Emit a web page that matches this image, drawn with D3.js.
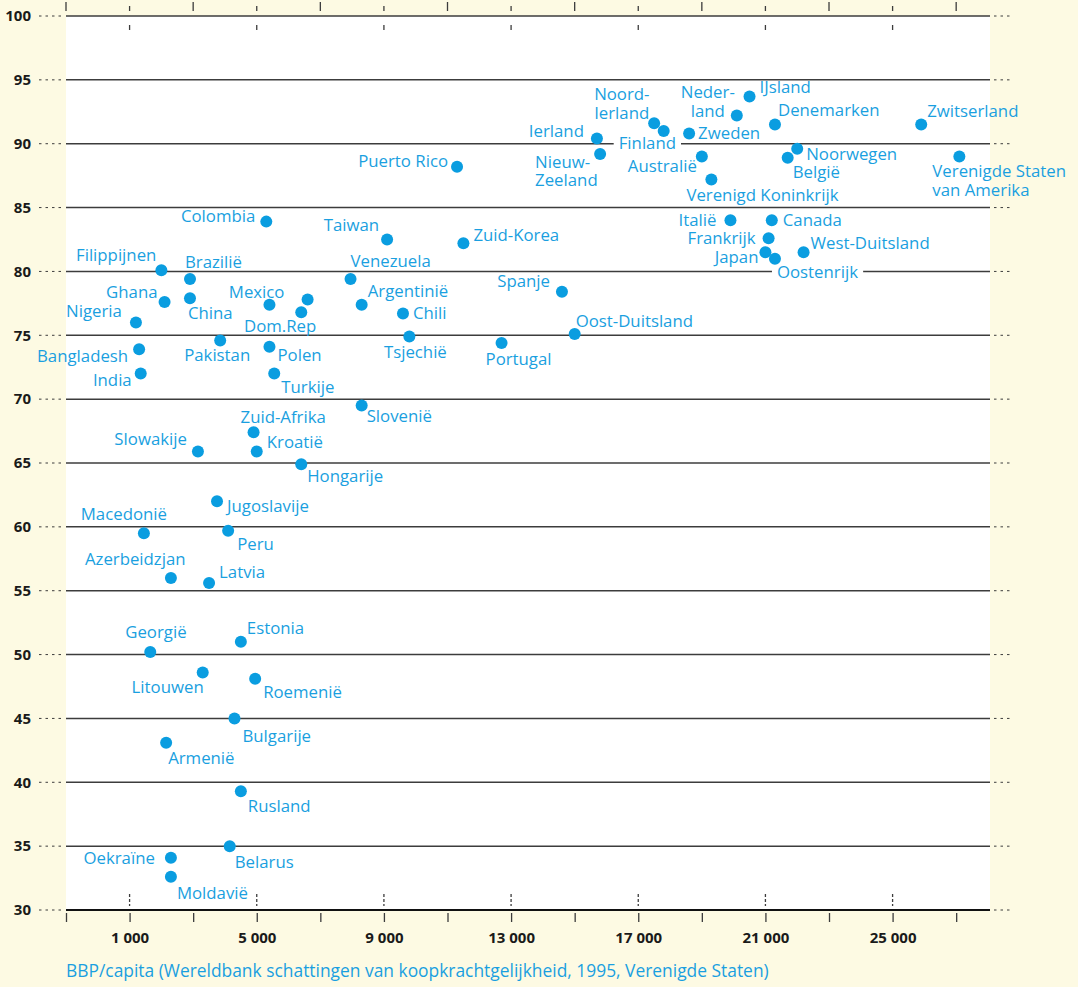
<!DOCTYPE html>
<html>
<head>
<meta charset="utf-8">
<script src="https://cdn.jsdelivr.net/npm/d3@7"></script>
<style>
  body { margin: 0; background: #fdfae3; }
  svg { display: block; }
  .lbl { font-family: 'Open Sans', sans-serif; font-size: 16.8px; fill: #1a9fe0; }
  .ax text { font-family: 'Open Sans', sans-serif; font-weight: bold; font-size: 15px; fill: #1a1a1a; }
</style>
</head>
<body>
<script>
// Data
var countries = ['Zwitserland', 'Verenigde Staten van Amerika', 'IJsland', 'Nederland', 'Denemarken',
  'Noord-Ierland', 'Finland', 'Zweden', 'Ierland', 'Nieuw-Zeeland', 'Australië', 'Noorwegen', 'België',
  'Verenigd Koninkrijk', 'Puerto Rico', 'Colombia', 'Taiwan', 'Zuid-Korea', 'Italië', 'Canada',
  'Frankrijk', 'Japan', 'Oostenrijk', 'West-Duitsland', 'Filippijnen', 'Brazilië', 'Ghana', 'China',
  'Nigeria', 'Mexico', '', 'Dom.Rep', 'Venezuela', 'Argentinië', 'Chili', 'Spanje', 'Oost-Duitsland',
  'Tsjechië', 'Portugal', 'Bangladesh', 'India', 'Pakistan', 'Polen', 'Turkije', 'Slovenië',
  'Zuid-Afrika', 'Kroatië', 'Slowakije', 'Hongarije', 'Jugoslavije', 'Macedonië', 'Peru',
  'Azerbeidzjan', 'Latvia', 'Georgië', 'Estonia', 'Litouwen', 'Roemenië', 'Bulgarije', 'Armenië',
  'Rusland', 'Belarus', 'Oekraïne', 'Moldavië']
var gdp = [25900, 27100, 20500, 20100, 21300,
  17500, 17800, 18600, 15700, 15800, 19000, 22000, 21700,
  19300, 11300, 5300, 9100, 11500, 19900, 21200,
  21100, 21000, 21300, 22200, 2000, 2900, 2100, 2900,
  1200, 5400, 6600, 6400, 7950, 8300, 9600, 14600, 15000,
  9800, 12700, 1300, 1350, 3850, 5400, 5550, 8300,
  4900, 5000, 3150, 6400, 3750, 1450, 4100,
  2300, 3500, 1650, 4500, 3300, 4950, 4300, 2150,
  4500, 4150, 2300, 2300]
var score = [91.5, 89.0, 93.7, 92.2, 91.5,
  91.6, 91.0, 90.8, 90.4, 89.2, 89.0, 89.6, 88.9,
  87.2, 88.2, 83.9, 82.5, 82.2, 84.0, 84.0,
  82.6, 81.5, 81.0, 81.5, 80.1, 79.4, 77.6, 77.9,
  76.0, 77.4, 77.8, 76.8, 79.4, 77.4, 76.7, 78.4, 75.1,
  74.9, 74.4, 73.9, 72.0, 74.6, 74.1, 72.0, 69.5,
  67.4, 65.9, 65.9, 64.9, 62.0, 59.5, 59.7,
  56.0, 55.6, 50.2, 51.0, 48.6, 48.1, 45.0, 43.1,
  39.3, 35.0, 34.1, 32.6]
var yTicks = [30, 35, 40, 45, 50, 55, 60, 65, 70, 75, 80, 85, 90, 95, 100]
var xMajor = [1000, 5000, 9000, 13000, 17000, 21000, 25000]
var xMinor = [-1000, 3000, 7000, 11000, 15000, 19000, 23000, 27000]
var xTitle = 'BBP/capita (Wereldbank schattingen van koopkrachtgelijkheid, 1995, Verenigde Staten)'

// label placement: dx, dy (centre of first line), anchor, white box
var labelPos = {
  'Zwitserland': [6, -13, 'start'], 'Verenigde Staten van Amerika': [-27, 15, 'start'],
  'IJsland': [10, -9, 'start'], 'Nederland': [-29, -23, 'middle'], 'Denemarken': [3, -14, 'start'],
  'Noord-Ierland': [-60, -29, 'start'], 'Finland': [-45, 12, 'start', true], 'Zweden': [9, 0, 'start'],
  'Ierland': [-13, -7, 'end'], 'Nieuw-Zeeland': [-65, 8, 'start'], 'Australië': [-5, 10, 'end'],
  'Noorwegen': [9, 5, 'start'], 'België': [5, 14, 'start'], 'Verenigd Koninkrijk': [-25, 16, 'start'],
  'Puerto Rico': [-9, -6, 'end'], 'Colombia': [-11, -6, 'end'], 'Taiwan': [-8, -14, 'end'],
  'Zuid-Korea': [10, -8, 'start'], 'Italië': [-14, 0, 'end'], 'Canada': [11, 0, 'start'],
  'Frankrijk': [-13, 0, 'end'], 'Japan': [-7, 5, 'end'], 'Oostenrijk': [2, 13, 'start', true],
  'West-Duitsland': [7, -9, 'start'], 'Filippijnen': [-5, -15, 'end'], 'Brazilië': [-5, -17, 'start'],
  'Ghana': [-7, -10, 'end'], 'China': [-2, 15, 'start'], 'Nigeria': [-14, -11, 'end'],
  'Mexico': [15, -13, 'end'], 'Dom.Rep': [15, 14, 'end'], 'Venezuela': [0, -18, 'start'],
  'Argentinië': [6, -14, 'start'], 'Chili': [10, 0, 'start'], 'Spanje': [-12, -11, 'end'],
  'Oost-Duitsland': [1, -13, 'start'], 'Tsjechië': [6, 16, 'middle'], 'Portugal': [17, 16, 'middle'],
  'Bangladesh': [-11, 7, 'end'], 'India': [-9, 7, 'end'], 'Pakistan': [-3, 15, 'middle'],
  'Polen': [8, 8, 'start'], 'Turkije': [7, 14, 'start'], 'Slovenië': [5, 11, 'start'],
  'Zuid-Afrika': [-13, -15, 'start'], 'Kroatië': [10, -9, 'start'], 'Slowakije': [-11, -12, 'end'],
  'Hongarije': [6, 12, 'start'], 'Jugoslavije': [10, 5, 'start'], 'Macedonië': [-20, -19, 'middle'],
  'Peru': [9, 13, 'start'], 'Azerbeidzjan': [-86, -19, 'start'], 'Latvia': [10, -11, 'start'],
  'Georgië': [-25, -20, 'start'], 'Estonia': [6, -14, 'start'], 'Litouwen': [1, 15, 'end'],
  'Roemenië': [8, 13, 'start'], 'Bulgarije': [8, 18, 'start'], 'Armenië': [2, 15, 'start'],
  'Rusland': [7, 15, 'start'], 'Belarus': [5, 16, 'start'], 'Oekraïne': [-16, 0, 'end'],
  'Moldavië': [6, 16, 'start']
}
var lineBreaks = {
  'Nederland': ['Neder-', 'land'],
  'Noord-Ierland': ['Noord-', 'Ierland'],
  'Nieuw-Zeeland': ['Nieuw-', 'Zeeland'],
  'Verenigde Staten van Amerika': ['Verenigde Staten', 'van Amerika']
}

var data = countries.map(function (c, i) { return { name: c, gdp: gdp[i], score: score[i] } })

var W = 1078, H = 987
var pLeft = 66, pRight = 990, pTop = 16, pBottom = 910
var blue = '#0a9de0', grid = '#3c3c3c'

var xScale = d3.scaleLinear().domain([-1000, 27000]).range([pLeft, pLeft + 28000 * 0.031792])
var yScale = d3.scaleLinear().domain([30, 100]).range([pBottom, pTop])
var fmt = d3.formatLocale({ decimal: ',', thousands: ' ', grouping: [3], currency: ['', ''] }).format(',')

var svg = d3.select('body').append('svg')
    .attr('width', W)
    .attr('height', H)

svg.append('rect')
    .attr('width', W).attr('height', H)
    .attr('fill', '#fdfae3')
svg.append('rect')
    .attr('x', pLeft).attr('y', pTop)
    .attr('width', pRight - pLeft).attr('height', pBottom - pTop)
    .attr('fill', '#fff')

// Horizontal grid lines + dotted leaders
svg.append('g').selectAll('line')
    .data(yTicks.slice(1))
    .enter()
  .append('line')
    .attr('x1', pLeft).attr('x2', pRight)
    .attr('y1', function (d) { return yScale(d) })
    .attr('y2', function (d) { return yScale(d) })
    .attr('stroke', grid)
    .attr('stroke-width', 1.5)
svg.append('g').selectAll('line')
    .data(yTicks)
    .enter()
  .append('line')
    .attr('x1', 39).attr('x2', 63)
    .attr('y1', function (d) { return yScale(d) })
    .attr('y2', function (d) { return yScale(d) })
    .attr('stroke', grid)
    .attr('stroke-dasharray', '2.5,4')
svg.append('g').selectAll('line')
    .data(yTicks)
    .enter()
  .append('line')
    .attr('x1', 994).attr('x2', 1013)
    .attr('y1', function (d) { return yScale(d) })
    .attr('y2', function (d) { return yScale(d) })
    .attr('stroke', grid)
    .attr('stroke-dasharray', '2.5,4')

// Y-axis labels
svg.append('g')
    .attr('class', 'ax')
  .selectAll('text')
    .data(yTicks)
    .enter()
  .append('text')
    .attr('x', 31)
    .attr('y', function (d) { return yScale(d) })
    .attr('dy', '0.35em')
    .style('text-anchor', 'end')
    .text(function (d) { return d })

// Top ticks
var topG = svg.append('g')
topG.selectAll('.mn')
    .data(xMinor)
    .enter()
  .append('line')
    .attr('x1', function (d) { return xScale(d) }).attr('x2', function (d) { return xScale(d) })
    .attr('y1', 2).attr('y2', 11)
    .attr('stroke', grid).attr('stroke-width', 1.3)
topG.selectAll('.mj')
    .data(xMajor)
    .enter()
  .append('line')
    .attr('x1', function (d) { return xScale(d) }).attr('x2', function (d) { return xScale(d) })
    .attr('y1', 6).attr('y2', 11)
    .attr('stroke', grid).attr('stroke-width', 1.3)
topG.selectAll('.mi')
    .data(xMajor)
    .enter()
  .append('line')
    .attr('x1', function (d) { return xScale(d) }).attr('x2', function (d) { return xScale(d) })
    .attr('y1', 25).attr('y2', 30)
    .attr('stroke', grid).attr('stroke-width', 1.3)

// Dashed marks above x-axis
svg.append('g').selectAll('line')
    .data(xMajor)
    .enter()
  .append('line')
    .attr('x1', function (d) { return xScale(d) }).attr('x2', function (d) { return xScale(d) })
    .attr('y1', 894).attr('y2', 906)
    .attr('stroke', grid).attr('stroke-width', 1.3)
    .attr('stroke-dasharray', '3,2')

// X-axis
var xAxis = d3.axisBottom(xScale)
    .tickValues(xMinor.concat(xMajor))
    .tickSize(10)
    .tickFormat('')
var xg = svg.append('g')
    .attr('transform', 'translate(0,' + pBottom + ')')
    .call(xAxis)
xg.select('.domain').remove()
xg.selectAll('.tick line').attr('stroke', grid).attr('stroke-width', 1.3).attr('y1', 3).attr('y2', 12)

var xLab = d3.axisBottom(xScale)
    .tickValues(xMajor)
    .tickSize(0)
    .tickPadding(22)
    .tickFormat(function (d) { return fmt(d) })
var xl = svg.append('g')
    .attr('class', 'ax')
    .attr('transform', 'translate(0,' + pBottom + ')')
    .call(xLab)
xl.select('.domain').remove()

svg.append('line')
    .attr('x1', pLeft).attr('x2', pRight)
    .attr('y1', pBottom).attr('y2', pBottom)
    .attr('stroke', '#111').attr('stroke-width', 2)

svg.append('text')
    .attr('class', 'lbl')
    .attr('x', pLeft)
    .attr('y', 971)
    .attr('dy', '0.35em')
    .style('font-size', '17.4px')
    .text(xTitle)

// Labels with a white box behind them
var boxG = svg.append('g')

// Dots
svg.append('g').selectAll('circle')
    .data(data)
    .enter()
  .append('circle')
    .attr('cx', function (d) { return xScale(d.gdp) })
    .attr('cy', function (d) { return yScale(d.score) })
    .attr('r', 6)
    .attr('fill', blue)

// Labels
var labels = svg.append('g').selectAll('text')
    .data(data.filter(function (d) { return d.name !== '' }))
    .enter()
  .append('text')
    .attr('class', 'lbl')
    .attr('x', function (d) { return xScale(d.gdp) + labelPos[d.name][0] })
    .attr('y', function (d) { return yScale(d.score) + labelPos[d.name][1] })
    .attr('dy', '0.35em')
    .style('text-anchor', function (d) { return labelPos[d.name][2] })

labels.each(function (d) {
  var t = d3.select(this)
  var lines = lineBreaks[d.name] || [d.name]
  if (lines.length === 1) {
    t.text(d.name)
  } else {
    t.attr('dy', null)
    lines.forEach(function (l, i) {
      t.append('tspan')
          .attr('x', t.attr('x'))
          .attr('dy', i === 0 ? '0.35em' : '18.5px')
          .text(l)
    })
  }
  if (labelPos[d.name][3]) {
    var b = this.getBBox()
    boxG.append('rect')
        .attr('x', b.x - 5).attr('y', b.y)
        .attr('width', b.width + 10).attr('height', b.height)
        .attr('fill', '#fff')
  }
})
</script>
</body>
</html>
